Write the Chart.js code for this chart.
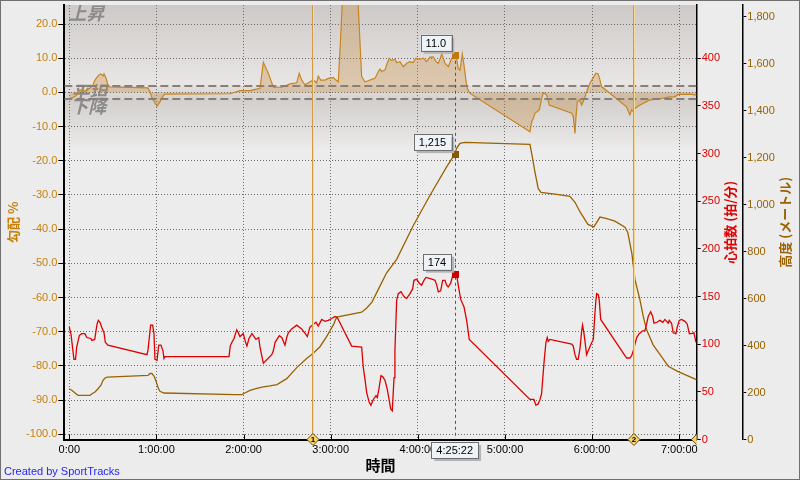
<!DOCTYPE html>
<html>
<head>
<meta charset="utf-8">
<script src="https://cdn.jsdelivr.net/npm/chart.js@4/dist/chart.umd.min.js"></script>
<style>
  html, body { margin: 0; padding: 0; background: #ececec; }
  canvas { display: block; }
</style>
</head>
<body>
<canvas id="chart" width="800" height="480"></canvas>
<script>
/* ===== DATA (time in minutes) ===== */
const hrTime = [0,1.2,3.2,4.3,5.1,6.9,8.5,10.8,12.0,14.9,
  15.6,17.5,18.2,19.1,20.0,21.1,22.5,23.9,24.8,26.6,
  53.5,54.2,55.1,56.0,57.4,58.3,59.0,60.4,61.6,63.1,
  64.5,65.2,65.9,110.0,110.8,112.0,113.4,115.3,116.4,117.5,
  119.8,121.0,122.3,123.7,125.8,127.2,128.5,130.4,131.3,133.6,
  139.4,140.5,141.7,144.6,146.3,148.5,149.7,150.8,153.1,156.6,
  160.0,163.0,163.9,165.7,169.9,171.4,173.8,176.1,178.3,180.7,
  182.9,184.5,194.4,201.3,202.4,203.6,204.8,206.5,207.7,209.3,
  211.2,212.1,213.4,214.6,215.8,217.4,218.9,220.3,221.3,222.4,
  223.6,224.2,225.4,226.5,228.4,230.0,231.1,232.3,234.6,236.4,
  237.3,239.2,241.0,242.6,244.2,245.6,247.9,250.2,251.8,253.0,
  254.1,255.7,257.1,258.7,259.8,260.9,262.6,264.0,265.4,266.7,
  267.8,269.5,271.8,273.6,275.4,317.2,319.9,321.3,322.7,324.1,
  325.2,325.9,327.0,328.2,329.1,329.8,330.9,345.9,347.0,348.2,
  349.3,350.4,351.6,352.8,353.4,354.4,355.0,356.2,357.3,359.2,
  360.8,361.9,362.6,363.1,364.2,364.9,365.9,382.6,383.8,386.0,
  387.2,388.3,389.5,390.7,392.4,394.8,396.3,397.5,398.6,400.3,
  401.7,402.6,404.6,406.7,408.6,410.1,412.4,413.1,414.7,415.8,
  417.7,418.6,420.0,421.6,423.9,425.5,426.9,428.5,430.1,431.5];
const hrValue = [118,110,84,84,97,109,111,111,107,106,
  104,105,112,121,125,123,117,112,102,99,
  89,94,107,120,120,111,84,83,99,99,
  93,85,87,87,98,102,106,115,112,108,
  111,104,98,106,111,108,105,107,97,80,
  89,93,102,109,107,99,107,112,116,120,
  116,110,108,118,123,119,126,124,125,127,
  129,128,98,97,76,63,49,39,36,42,
  46,44,55,67,66,62,53,41,32,30,
  65,92,146,153,155,151,149,148,153,158,
  167,168,164,162,167,170,169,168,167,162,
  155,156,167,167,162,160,164,172,174,173,
  162,147,139,125,105,42,42,36,37,42,
  48,62,83,102,107,103,105,100,98,89,
  84,84,95,114,120,111,104,89,93,100,
  105,132,146,153,152,146,126,88,85.5,85.5,
  88,93,100,107,111,114,114,121,129,134,
  129,122,123,125,123,126,122,125,122,112,
  111,118,125,126,124,121,111,111,112,102];

const altTime = [0,1.9,4.6,6.0,14.3,15.6,17.7,19.8,21.8,23.2,
  24.6,26.2,54.2,55.6,56.9,58.3,59.7,61.1,62.4,65.2,
  114.1,118.9,121.0,124.4,127.9,132.7,138.2,143.0,149.7,156.6,
  163.4,168.0,172.6,177.2,181.8,184.1,201.3,204.8,208.4,213.9,
  218.5,225.4,236.8,248.3,259.8,265.4,266.7,269.0,272.4,317.2,
  319.0,320.6,322.9,324.8,334.4,344.7,348.2,351.6,357.1,361.2,
  365.4,369.5,375.7,382.6,384.6,387.4,389.5,392.9,395.2,397.5,
  402.1,407.9,412.4,418.2,425.1,431.8];
const altValue = [216,209,195,188,188,195,202,216,231,252,
  262,266,273,281,281,270,249,221,205,198,
  191,191,198,209,216,223,228,234,259,306,
  345,367,395,438,488,521,542,560,585,653,
  710,767,910,1039,1161,1215,1240,1261,1265,1257,
  1197,1139,1068,1052,1045,1035,1010,970,916,905,
  947,942,930,904,880,790,681,595,524,467,
  402,352,312,292,273,255];

const gradeTime = [0,1.9,4.6,7.4,10.8,14.3,16.3,17.7,19.1,20.4,
  21.8,23.2,23.9,25.3,26.6,28.0,54.2,55.6,56.9,59.0,
  60.4,62.4,64.5,65.9,110.7,117.5,124.4,131.3,133.6,137.0,
  140.5,146.2,152.0,156.6,158.3,160.0,162.3,165.7,168.0,170.3,
  171.4,173.1,176.1,178.3,181.8,183.6,185.2,186.4,188.4,198.4,
  201.3,203.6,205.9,208.2,210.5,212.8,213.9,215.1,217.4,218.5,
  220.3,222.0,224.2,225.4,227.7,230.0,232.3,234.6,236.8,238.7,
  241.4,243.7,246.0,248.3,250.6,252.5,254.1,256.4,257.5,258.7,
  261.0,263.3,265.4,266.3,267.8,269.0,270.6,271.7,273.1,274.0,
  275.9,317.2,318.4,319.5,320.6,322.2,323.6,324.6,325.5,326.4,
  328.7,330.5,345.9,347.0,348.2,348.9,349.8,351.2,352.8,353.9,
  355.1,356.6,358.5,360.4,362.6,364.2,365.4,366.5,383.7,384.9,
  386.0,387.2,388.3,389.5,391.8,395.2,399.8,404.4,409.0,413.6,
  417.0,419.3,427.4,431.8];
const gradeValue = [-1.7,-1.7,-1.0,0.7,0.4,1.3,2.2,3.6,4.5,5.1,
  5.4,4.8,5.4,4.2,2.2,1.6,1.3,0.1,-1.6,-3.1,
  -4.0,-2.8,-1.1,-0.5,-0.4,0.5,0.5,1.2,8.8,5.6,
  1.5,1.5,2.5,2.8,5.6,3.6,2.2,3.1,3.6,2.8,
  4.8,3.6,3.6,4.1,4.4,3.6,3.1,12.4,30,30,
  4.6,3.1,3.4,3.8,4.1,6.1,6.8,6.1,6.6,8.0,
  10.0,9.3,9.7,8.7,9.0,7.5,8.5,9.0,8.7,10.0,
  9.7,10.0,9.0,10.3,10.4,9.0,8.5,11.2,10.0,8.5,
  7.5,10.0,11.0,10.9,7.0,6.5,11.2,8.2,3.6,1.2,
  -0.3,-11.5,-8.6,-7.6,-6.1,-5.6,-5.1,-3.2,-1.3,-0.1,
  -0.8,-3.7,-6.1,-7.1,-12.0,-7.1,-2.7,-2.2,-3.7,-2.7,
  -1.3,0.7,2.7,4.1,5.6,5.4,3.6,1.7,-4.2,-5.6,
  -6.6,-5.1,-5.6,-4.7,-4.0,-3.2,-2.2,-2.0,-1.7,-1.3,
  -1.3,-0.6,-0.5,-0.8];

const timeTicks = [0, 60, 120, 180, 240, 300, 360, 420];
const timeTickLabels = ["0:00", "1:00:00", "2:00:00", "3:00:00", "4:00:00", "5:00:00", "6:00:00", "7:00:00"];
const gradeTicks = [20, 10, 0, -10, -20, -30, -40, -50, -60, -70, -80, -90, -100];
const hrTicks = [0, 50, 100, 150, 200, 250, 300, 350, 400];
const altTicks = [0, 200, 400, 600, 800, 1000, 1200, 1400, 1600, 1800];

const timeRange = [-3.44, 432.0];
const gradeRange = [-101.52, 25.56];
const hrRange = [0, 455.9];
const altRange = [0, 1850];
const flatBand = [2, -2];

const lapTimes = [167.8, 388.8];
const lapLabels = ["1", "2"];

const cursorTime = 265.37;
const cursorLabel = "4:25:22";
const cursorGrade = 11.0;
const cursorAlt = 1215;
const cursorHR = 174;

/* ===== STYLE ===== */
const COL = {
    bg: "#ececec",
    grade: "#c8841e",
    gradeFill: "rgba(196,136,60,0.32)",
    gradeAxis: "#c8800a",
    hr: "#dd0000",
    alt: "#9a6200",
    grid: "#6c6c6c"
};
const CJK = '"Noto Sans CJK JP", sans-serif';
Chart.defaults.font.family = '"Liberation Sans", Arial, sans-serif';
Chart.defaults.font.size = 11;

function pts(xs, ys) {
    return xs.map((x, i) => ({ x: x, y: ys[i] }));
}

function band(ctx, a, y0, y1, c0, c1) {
    const gr = ctx.createLinearGradient(0, y0, 0, y1);
    gr.addColorStop(0, c0);
    gr.addColorStop(1, c1);
    ctx.fillStyle = gr;
    ctx.fillRect(a.left, y0, a.right - a.left, y1 - y0);
}

function tag(ctx, text, right, bottom) {
    ctx.font = '11px "Liberation Sans", Arial';
    const w = ctx.measureText(text).width + 10, h = 16;
    const x = right - w, y = bottom - h;
    ctx.fillStyle = "#b4b4b4";
    ctx.fillRect(x + 3, y + 3, w, h);
    ctx.fillStyle = "#eef3f7";
    ctx.fillRect(x, y, w, h);
    ctx.strokeStyle = "#6e6e6e";
    ctx.lineWidth = 1;
    ctx.strokeRect(Math.round(x) + 0.5, Math.round(y) + 0.5, Math.round(w), h);
    ctx.fillStyle = "#000";
    ctx.textAlign = "center";
    ctx.textBaseline = "middle";
    ctx.fillText(text, x + w / 2, y + h / 2 + 1);
}

function diamond(ctx, x, y, r, label) {
    ctx.beginPath();
    ctx.moveTo(x, y - r); ctx.lineTo(x + r, y); ctx.lineTo(x, y + r); ctx.lineTo(x - r, y);
    ctx.closePath();
    ctx.fillStyle = "#f6d46c";
    ctx.fill();
    ctx.strokeStyle = "#6a5020";
    ctx.lineWidth = 1;
    ctx.stroke();
    if (label) {
        ctx.fillStyle = "#000";
        ctx.font = 'bold 8px "Liberation Sans", Arial';
        ctx.textAlign = "center";
        ctx.textBaseline = "middle";
        ctx.fillText(label, x, y + 0.5);
    }
}

function vtitle(ctx, text, x, y, color) {
    ctx.save();
    ctx.translate(x, y);
    ctx.rotate(-Math.PI / 2);
    ctx.font = "bold 13px " + CJK;
    ctx.fillStyle = color;
    ctx.textAlign = "center";
    ctx.textBaseline = "middle";
    ctx.fillText(text, 0, 0);
    ctx.restore();
}

/* ===== DECORATION PLUGIN ===== */
const decor = {
    id: "decor",
    beforeDraw(chart) {
        const { ctx, chartArea: a, scales } = chart;
        const g = scales.yGrade;
        ctx.save();
        ctx.fillStyle = COL.bg;
        ctx.fillRect(0, 0, chart.width, chart.height);

        const yUp = g.getPixelForValue(flatBand[0]);
        const yDn = g.getPixelForValue(flatBand[1]);
        const yFade = g.getPixelForValue(-17);
        band(ctx, a, a.top, yUp, "#cdc9c7", "#e9e7e6");
        band(ctx, a, yUp, yDn, "#e2dfdd", "#d6d2d0");
        band(ctx, a, yDn, yFade, "#d2cecb", COL.bg);

        ctx.beginPath();
        ctx.rect(a.left, a.top, a.right - a.left, a.bottom - a.top);
        ctx.clip();
        ctx.font = "italic bold 18px " + CJK;
        ctx.fillStyle = "#8a8a8a";
        ctx.textAlign = "left";
        ctx.textBaseline = "middle";
        ctx.fillText("上昇", a.left + 4, a.top + 8);
        ctx.fillText("平坦", a.left + 7, g.getPixelForValue(0));
        ctx.fillText("下降", a.left + 6, g.getPixelForValue(-4));
        ctx.restore();
    },
    afterDatasetsDraw(chart) {
        const { ctx, chartArea: a, scales } = chart;
        const x = scales.x, g = scales.yGrade, h = scales.yHR, al = scales.yAlt;
        ctx.save();
        ctx.beginPath();
        ctx.rect(a.left, a.top, a.right - a.left, a.bottom - a.top);
        ctx.clip();

        // flat zone dashed lines
        ctx.strokeStyle = "#8a7e78";
        ctx.lineWidth = 2;
        ctx.setLineDash([8, 4]);
        flatBand.forEach(v => {
            const y = Math.round(g.getPixelForValue(v));
            ctx.beginPath(); ctx.moveTo(a.left, y); ctx.lineTo(a.right, y); ctx.stroke();
        });
        ctx.setLineDash([]);

        // lap lines
        lapTimes.forEach(t => {
            const px = Math.round(x.getPixelForValue(t));
            ctx.strokeStyle = "#cf9c40"; ctx.lineWidth = 2;
            ctx.beginPath(); ctx.moveTo(px, a.top); ctx.lineTo(px, a.bottom); ctx.stroke();
            ctx.strokeStyle = "#f4d894"; ctx.lineWidth = 1;
            ctx.beginPath(); ctx.moveTo(px + 0.5, a.top); ctx.lineTo(px + 0.5, a.bottom); ctx.stroke();
        });

        // cursor
        const cx = x.getPixelForValue(cursorTime);
        const gy = g.getPixelForValue(cursorGrade);
        const ay = al.getPixelForValue(cursorAlt);
        const hy = h.getPixelForValue(cursorHR);
        ctx.strokeStyle = "#555";
        ctx.lineWidth = 1;
        ctx.setLineDash([3, 3]);
        ctx.beginPath(); ctx.moveTo(Math.round(cx) + 0.5, gy); ctx.lineTo(Math.round(cx) + 0.5, a.bottom); ctx.stroke();
        ctx.setLineDash([]);
        [[gy, "#c07810"], [ay, "#8a5500"], [hy, "#cc0000"]].forEach(([py, c]) => {
            ctx.fillStyle = c;
            ctx.fillRect(Math.round(cx) - 3, Math.round(py) - 3, 7, 7);
        });
        ctx.restore();

        ctx.save();
        tag(ctx, cursorGrade.toFixed(1), cx - 3.5, gy - 4);
        tag(ctx, cursorAlt.toLocaleString("en-US"), cx - 3.5, ay - 4);
        tag(ctx, String(cursorHR), cx - 3.5, hy - 4);
        ctx.restore();
    },
    afterDraw(chart) {
        const { ctx, chartArea: a, scales } = chart;
        const x = scales.x;
        ctx.save();

        // inward x ticks
        ctx.strokeStyle = "#000";
        ctx.lineWidth = 1;
        timeTicks.forEach(t => {
            const px = Math.round(x.getPixelForValue(t)) + 0.5;
            ctx.beginPath(); ctx.moveTo(px, a.bottom - 5); ctx.lineTo(px, a.bottom); ctx.stroke();
        });

        // right axis titles
        const midY = (a.top + a.bottom) / 2;
        vtitle(ctx, "心拍数 (拍/分)", scales.yHR.right - 12.5, midY, COL.hr);
        vtitle(ctx, "高度 (メートル)", scales.yAlt.right - 12.5, midY, COL.alt);

        // lap diamonds
        lapTimes.forEach((t, i) => diamond(ctx, x.getPixelForValue(t), a.bottom, 6, lapLabels[i]));
        ctx.save();
        ctx.beginPath();
        ctx.rect(a.left, 0, a.right - a.left, chart.height);
        ctx.clip();
        diamond(ctx, x.getPixelForValue(gradeTime[gradeTime.length - 1]), a.bottom, 5, "");
        ctx.restore();

        // cursor time box
        ctx.font = '11px "Liberation Sans", Arial';
        const cx = x.getPixelForValue(cursorTime);
        const w = ctx.measureText(cursorLabel).width + 10;
        tag(ctx, cursorLabel, cx + w / 2, a.bottom + 18.5);

        // credit
        ctx.fillStyle = "#2626f2";
        ctx.font = '11px "Liberation Sans", Arial';
        ctx.textAlign = "left";
        ctx.textBaseline = "middle";
        ctx.fillText("Created by SportTracks", 4, 471.5);

        // frame
        ctx.strokeStyle = "#707070";
        ctx.lineWidth = 1;
        ctx.strokeRect(0.5, 0.5, chart.width - 1, chart.height - 1);
        ctx.restore();
    }
};

/* ===== CHART ===== */
new Chart(document.getElementById("chart"), {
    type: "line",
    data: {
        datasets: [
            {
                label: "心拍数",
                data: pts(hrTime, hrValue),
                yAxisID: "yHR",
                borderColor: COL.hr,
                borderWidth: 1.3,
                pointRadius: 0,
                tension: 0,
                fill: false
            },
            {
                label: "高度",
                data: pts(altTime, altValue),
                yAxisID: "yAlt",
                borderColor: COL.alt,
                borderWidth: 1.3,
                pointRadius: 0,
                tension: 0,
                fill: false
            },
            {
                label: "勾配",
                data: pts(gradeTime, gradeValue),
                yAxisID: "yGrade",
                borderColor: COL.grade,
                backgroundColor: COL.gradeFill,
                borderWidth: 1.2,
                pointRadius: 0,
                tension: 0,
                fill: "origin"
            }
        ]
    },
    options: {
        responsive: false,
        animation: false,
        layout: { padding: { left: 0, right: 2, top: 5, bottom: 0 } },
        plugins: { legend: { display: false }, tooltip: { enabled: false } },
        scales: {
            x: {
                type: "linear",
                position: "bottom",
                min: timeRange[0],
                max: timeRange[1],
                afterBuildTicks: s => { s.ticks = timeTicks.map(v => ({ value: v })); },
                afterFit: s => { s.height = 40.5; s.paddingLeft = 0; s.paddingRight = 0; },
                ticks: {
                    callback: (v, i) => timeTickLabels[i],
                    color: "#000",
                    padding: 4,
                    maxRotation: 0,
                    autoSkip: false
                },
                grid: { color: COL.grid, drawTicks: false },
                border: { color: "#000", width: 2, dash: [1, 2] },
                title: {
                    display: true,
                    text: "時間",
                    color: "#000",
                    font: { size: 15, weight: "bold", family: CJK },
                    padding: { top: 0, bottom: 6 }
                }
            },
            yGrade: {
                type: "linear",
                position: "left",
                min: gradeRange[0],
                max: gradeRange[1],
                afterBuildTicks: s => { s.ticks = gradeTicks.map(v => ({ value: v })); },
                afterFit: s => { s.width = 64.3; s.paddingTop = 0; s.paddingBottom = 0; },
                ticks: { callback: v => v.toFixed(1), color: COL.gradeAxis, padding: 1 },
                grid: { color: COL.grid, tickColor: "#000", tickLength: 6 },
                border: { color: "#000", width: 2, dash: [1, 2] },
                title: {
                    display: true,
                    text: "勾配 %",
                    color: COL.gradeAxis,
                    font: { size: 13, weight: "bold", family: CJK },
                    padding: { top: 5 }
                }
            },
            yHR: {
                type: "linear",
                position: "right",
                weight: 0,
                min: hrRange[0],
                max: hrRange[1],
                afterBuildTicks: s => { s.ticks = hrTicks.map(v => ({ value: v })); },
                afterFit: s => { s.width = 45.6; s.paddingTop = 0; s.paddingBottom = 0; },
                ticks: { callback: v => String(v), color: COL.hr, padding: 1 },
                grid: { drawOnChartArea: false, tickColor: "#000", tickLength: 4 },
                border: { color: "#000", width: 1.5 }
            },
            yAlt: {
                type: "linear",
                position: "right",
                weight: 1,
                min: altRange[0],
                max: altRange[1],
                afterBuildTicks: s => { s.ticks = altTicks.map(v => ({ value: v })); },
                afterFit: s => { s.width = 55.7; s.paddingTop = 0; s.paddingBottom = 0; },
                ticks: { callback: v => v.toLocaleString("en-US"), color: COL.alt, padding: 1 },
                grid: { drawOnChartArea: false, tickColor: "#000", tickLength: 4 },
                border: { color: "#000", width: 1.5 }
            }
        }
    },
    plugins: [decor]
});
</script>
</body>
</html>
